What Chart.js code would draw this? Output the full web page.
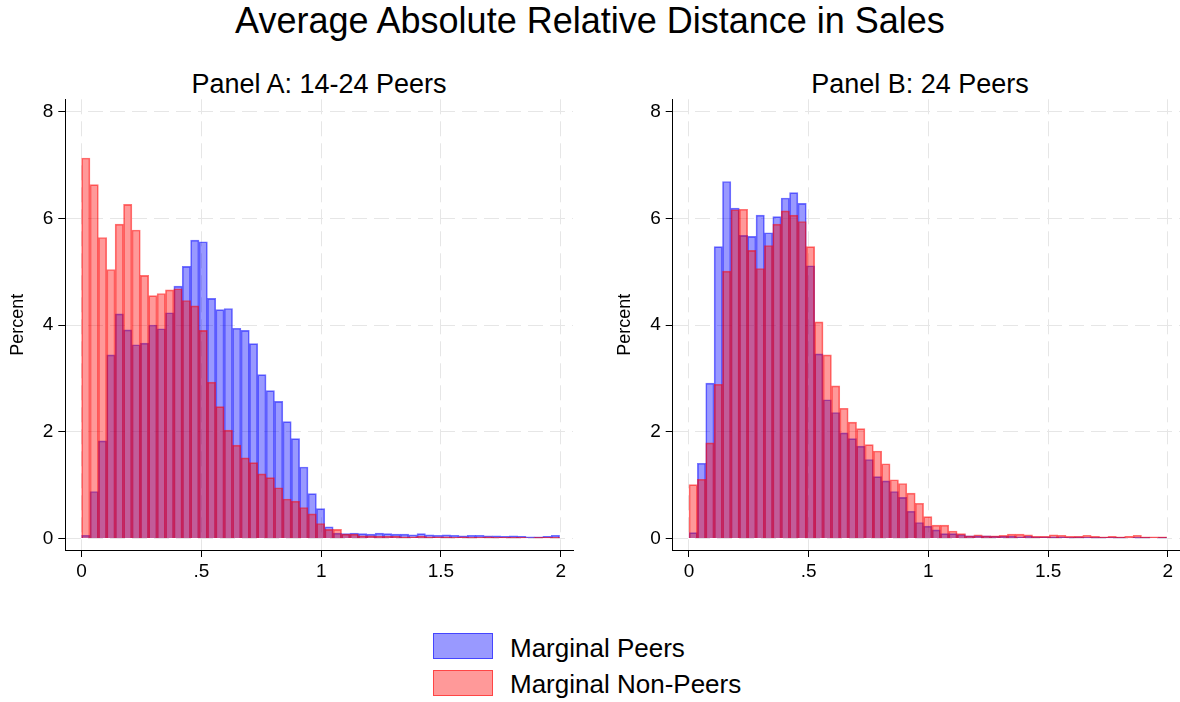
<!DOCTYPE html>
<html>
<head>
<meta charset="utf-8">
<script src="https://cdn.jsdelivr.net/npm/chart.js@4/dist/chart.umd.min.js"></script>
<style>
html,body{margin:0;padding:0;background:#fff;}
#wrap{position:relative;width:1180px;height:702px;overflow:hidden;font-family:"Liberation Sans",Arial,Helvetica,sans-serif;color:#000;}
.t{position:absolute;white-space:nowrap;}
#title{left:0;width:1180px;text-align:center;top:3px;font-size:36px;line-height:36px;}
.ptitle{font-size:27px;line-height:27px;top:71px;text-align:center;width:600px;}
#cA{position:absolute;left:0;top:0;}
#cB{position:absolute;left:600px;top:0;}
.lg{position:absolute;left:433px;width:58px;height:24px;border:1px solid;}
.lt{position:absolute;left:510px;font-size:26px;line-height:26px;}
</style>
</head>
<body>
<div id="wrap">
  <div class="t" id="title">Average Absolute Relative Distance in Sales</div>
  <div class="t ptitle" id="ptA" style="left:19px;">Panel A: 14-24 Peers</div>
  <div class="t ptitle" id="ptB" style="left:620px;">Panel B: 24 Peers</div>
  <canvas id="cA" width="600" height="600"></canvas>
  <canvas id="cB" width="580" height="600"></canvas>
  <div class="lg" id="lg0" style="top:633px;"></div>
  <div class="t lt" id="lt0" style="top:635px;"></div>
  <div class="lg" id="lg1" style="top:670px;"></div>
  <div class="t lt" id="lt1" style="top:671px;"></div>
</div>
<script>
// ---- data (percent per bin; bins of width binWidth starting at 0) ----
const binWidth = 0.035;
const xTicks = [0, 0.5, 1, 1.5, 2];
const xTickLabels = ['0', '.5', '1', '1.5', '2'];
const yTicks = [0, 2, 4, 6, 8];
const seriesNames = ['Marginal Peers', 'Marginal Non-Peers'];

const panelAPeers = [
  0.06, 0.88, 1.83, 3.44, 4.21, 3.91, 3.63, 3.66, 4.00, 3.93,
  4.23, 4.73, 5.10, 5.59, 5.56, 4.50, 4.29, 4.31, 3.94, 3.90,
  3.65, 3.07, 2.77, 2.57, 2.19, 1.87, 1.34, 0.84, 0.56, 0.22,
  0.10, 0.09, 0.10, 0.09, 0.08, 0.10, 0.09, 0.08, 0.08, 0.07,
  0.09, 0.07, 0.06, 0.07, 0.06, 0.05, 0.06, 0.06, 0.05, 0.05,
  0.04, 0.05, 0.04, 0.03, 0.03, 0.04, 0.06
];
const panelANonPeers = [
  7.13, 6.63, 5.64, 5.04, 5.89, 6.26, 5.78, 4.93, 4.55, 4.59,
  4.66, 4.68, 4.46, 4.36, 3.90, 2.93, 2.47, 2.03, 1.75, 1.51,
  1.42, 1.21, 1.14, 0.95, 0.74, 0.70, 0.58, 0.46, 0.28, 0.17,
  0.17, 0.08, 0.08, 0.05, 0.05, 0.04, 0.04, 0.04, 0.03, 0.03,
  0.04, 0.03, 0.03, 0.03, 0.02, 0.03, 0.02, 0.02, 0.03, 0.02,
  0.02, 0.02, 0.02, 0.01, 0.02, 0.02, 0.02
];
const panelBPeers = [
  0.11, 1.41, 2.91, 5.47, 6.69, 6.19, 5.68, 5.66, 6.06, 5.73,
  6.03, 6.38, 6.48, 6.28, 5.11, 3.46, 2.60, 2.36, 1.98, 1.87,
  1.73, 1.48, 1.16, 1.08, 0.88, 0.77, 0.51, 0.30, 0.23, 0.16,
  0.09, 0.09, 0.075, 0.05, 0.05, 0.05, 0.04, 0.04, 0.04, 0.03,
  0.04, 0.03, 0.03, 0.03, 0.03, 0.02, 0.03, 0.02, 0.02, 0.02,
  0.02, 0.02, 0.01, 0.02, 0.02, 0.01, 0.02
];
const panelBNonPeers = [
  1.01, 1.11, 1.79, 2.89, 5.01, 6.16, 6.17, 5.40, 5.06, 5.49,
  5.89, 6.14, 6.06, 5.94, 5.47, 4.06, 3.44, 2.86, 2.44, 2.18,
  2.06, 1.76, 1.64, 1.40, 1.10, 1.03, 0.85, 0.66, 0.41, 0.25,
  0.25, 0.14, 0.09, 0.05, 0.07, 0.05, 0.05, 0.06, 0.08, 0.08,
  0.07, 0.04, 0.04, 0.07, 0.06, 0.04, 0.04, 0.06, 0.04, 0.03,
  0.04, 0.03, 0.04, 0.06, 0.03, 0.03, 0.03
];

// ---- styles ----
const peersFill = 'rgba(0,0,255,0.4)';
const peersLine = 'rgba(0,0,255,0.55)';
const nonFill = 'rgba(255,0,0,0.4)';
const nonLine = 'rgba(255,0,0,0.55)';
const gridColor = '#e6e6e6';
const fontFamily = '"Liberation Sans", Arial, Helvetica, sans-serif';

Chart.defaults.font.family = fontFamily;
Chart.defaults.color = '#000';

function toPoints(arr) {
  return arr.map((v, i) => ({ x: (i + 0.5) * binWidth, y: v }));
}

function makeChart(id, peers, nonPeers, padLeft, padRight) {
  return new Chart(document.getElementById(id), {
    type: 'bar',
    data: {
      datasets: [
        { label: seriesNames[0], data: toPoints(peers), backgroundColor: peersFill,
          borderColor: peersLine, borderWidth: 1, order: 1 },
        { label: seriesNames[1], data: toPoints(nonPeers), backgroundColor: nonFill,
          borderColor: nonLine, borderWidth: 1, order: 0 }
      ]
    },
    options: {
      responsive: false,
      animation: false,
      devicePixelRatio: 1,
      events: [],
      layout: { padding: { left: padLeft, right: padRight, top: 99.3, bottom: 10 } },
      plugins: { legend: { display: false }, tooltip: { enabled: false }, title: { display: false } },
      datasets: { bar: { grouped: false, barPercentage: 1, categoryPercentage: 1 } },
      scales: {
        x: {
          type: 'linear', min: -0.068, max: 2.051, offset: false,
          afterBuildTicks: s => { s.ticks = xTicks.map(v => ({ value: v })); },
          afterFit: s => { s.height = 40; },
          ticks: { callback: (v, i) => xTickLabels[i], font: { size: 19 }, color: '#000',
                   padding: 3, maxRotation: 0, autoSkip: false },
          grid: { offset: false, color: gridColor, lineWidth: 1, tickColor: '#000',
                  tickLength: 7, tickWidth: 1, tickBorderDash: [] },
          border: { display: true, color: '#000', width: 1, dash: [15, 7] }
        },
        y: {
          type: 'linear', min: -0.216, max: 8.23,
          afterBuildTicks: s => { s.ticks = yTicks.map(v => ({ value: v })); },
          afterFit: s => { s.width = 65; },
          ticks: { callback: v => String(v), font: { size: 19 }, color: '#000', padding: 5 },
          grid: { color: gridColor, lineWidth: 1, tickColor: '#000',
                  tickLength: 7, tickWidth: 1, tickBorderDash: [] },
          border: { display: true, color: '#000', width: 1, dash: [15, 7] },
          title: { display: true, text: 'Percent', font: { size: 18 }, color: '#000',
                   padding: { top: 7, bottom: 0 } }
        }
      }
    }
  });
}

makeChart('cA', panelAPeers, panelANonPeers, 0.3, 27);
makeChart('cB', panelBPeers, panelBNonPeers, 7.7, 0);

// legend (HTML)
const lgFills = [peersFill, nonFill];
const lgLines = [peersLine, nonLine];
for (let i = 0; i < 2; i++) {
  const b = document.getElementById('lg' + i);
  b.style.background = lgFills[i];
  b.style.borderColor = lgLines[i];
  document.getElementById('lt' + i).textContent = seriesNames[i];
}
</script>
</body>
</html>
